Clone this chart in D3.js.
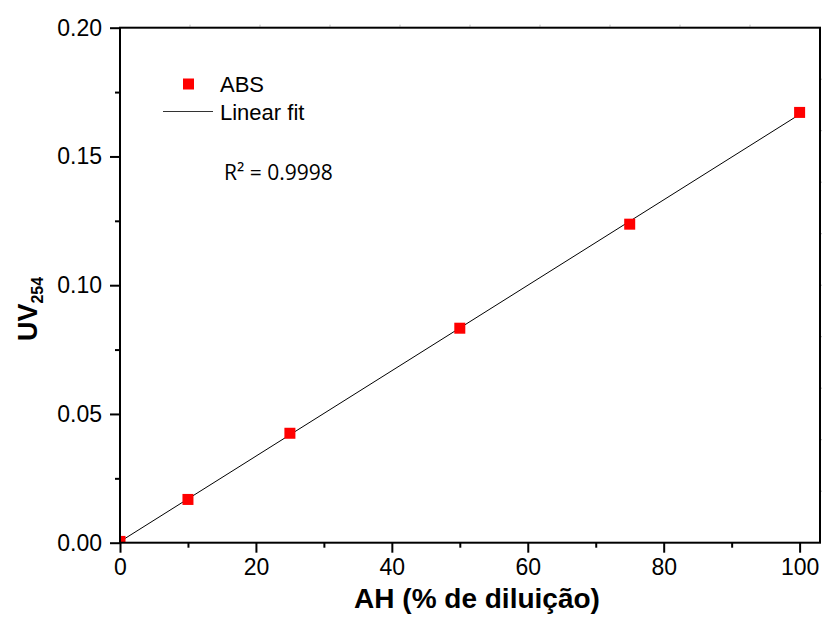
<!DOCTYPE html>
<html>
<head>
<meta charset="utf-8">
<script src="https://cdn.jsdelivr.net/npm/d3@7"></script>
<style>
  html, body { margin: 0; padding: 0; background: #fff; }
  svg { display: block; }
  text { font-family: "Liberation Sans", Arial, sans-serif; fill: #000; }
</style>
</head>
<body>
<svg id="chart" width="822" height="630"></svg>
<script>
// Dilution (%) of humic acid and measured UV absorbance at 254 nm
const dilution = [0, 10, 25, 50, 75, 100];
const absorbance = [0.0005, 0.0168, 0.0425, 0.0833, 0.1237, 0.1671];
const xTicks = [0, 20, 40, 60, 80, 100];
const yTicks = [0.00, 0.05, 0.10, 0.15, 0.20];
const rSquaredLabel = "R² = 0.9998";

const W = 822, H = 630;
const margin = { left: 120, top: 27.7, right: 2, bottom: 87.3 };
const pw = W - margin.left - margin.right;   // 700
const ph = H - margin.top - margin.bottom;   // 515

const svg = d3.select("#chart");
const g = svg.append("g").attr("transform", `translate(${margin.left},${margin.top})`);

const x = d3.scaleLinear().domain([0, 103]).range([0, pw]);
const y = d3.scaleLinear().domain([0, 0.2]).range([ph, 0]);

// Least-squares line through the measurements
const n = dilution.length;
const mx = d3.mean(dilution), my = d3.mean(absorbance);
let sxy = 0, sxx = 0;
for (let i = 0; i < n; i++) {
  sxy += (dilution[i] - mx) * (absorbance[i] - my);
  sxx += (dilution[i] - mx) ** 2;
}
const slope = sxy / sxx, intercept = my - slope * mx;
const fitX = [d3.min(dilution), d3.max(dilution)];

g.append("clipPath").attr("id", "plot-clip")
  .append("rect").attr("width", pw).attr("height", ph);

const plot = g.append("g").attr("clip-path", "url(#plot-clip)");

plot.append("path")
  .datum(fitX)
  .attr("fill", "none")
  .attr("stroke", "#000")
  .attr("stroke-width", 1)
  .attr("d", d3.line().x(d => x(d)).y(d => y(intercept + slope * d)));

const sq = 11;
plot.selectAll("rect.pt")
  .data(dilution.map((d, i) => [d, absorbance[i]]))
  .join("rect")
  .attr("class", "pt")
  .attr("x", d => x(d[0]) - sq / 2)
  .attr("y", d => y(d[1]) - sq / 2)
  .attr("width", sq).attr("height", sq)
  .attr("fill", "#ff0000");

// Faint frame ticks on the top and right edges
const frameX = d3.scaleLinear().domain([0, 10]).range([0, pw]);
const frameY = d3.scaleLinear().domain([0, 10]).range([0, ph]);
g.append("g").selectAll("line")
  .data(d3.range(1, 10))
  .join("line")
  .attr("x1", d => frameX(d)).attr("x2", d => frameX(d))
  .attr("y1", -1).attr("y2", -3)
  .attr("stroke", "#bbb").attr("stroke-width", 1);
g.append("g").selectAll("line")
  .data(d3.range(1, 10))
  .join("line")
  .attr("y1", d => frameY(d)).attr("y2", d => frameY(d))
  .attr("x1", pw + 1).attr("x2", pw + 3)
  .attr("stroke", "#bbb").attr("stroke-width", 1);

// Bottom axis
const xAxis = g.append("g").attr("transform", `translate(0,${ph})`);
xAxis.call(d3.axisBottom(x).tickValues(d3.range(10, 101, 20)).tickSize(5).tickFormat(""))
  .call(s => s.select(".domain").remove());
xAxis.append("g").call(d3.axisBottom(x).tickValues(xTicks).tickSize(10).tickPadding(6).tickFormat(d3.format("d")))
  .call(s => s.select(".domain").remove());
xAxis.selectAll("line").attr("stroke", "#000").attr("stroke-width", 2);
xAxis.selectAll("text").attr("font-size", 23).style("font-family", "Liberation Sans, Arial, sans-serif").attr("fill", "#000");

// Left axis
const yAxis = g.append("g");
yAxis.call(d3.axisLeft(y).tickValues(d3.range(0.025, 0.2, 0.05)).tickSize(5).tickFormat(""))
  .call(s => s.select(".domain").remove());
yAxis.append("g").call(d3.axisLeft(y).tickValues(yTicks).tickSize(10).tickPadding(8).tickFormat(d3.format(".2f")))
  .call(s => s.select(".domain").remove());
yAxis.selectAll("line").attr("stroke", "#000").attr("stroke-width", 2);
yAxis.selectAll("text").attr("font-size", 23).style("font-family", "Liberation Sans, Arial, sans-serif").attr("fill", "#000");

// Frame
g.append("rect")
  .attr("width", pw).attr("height", ph)
  .attr("fill", "none").attr("stroke", "#000").attr("stroke-width", 2);

// Legend
const leg = g.append("g");
leg.append("rect")
  .attr("x", 188.5 - margin.left - sq / 2).attr("y", 84 - margin.top - sq / 2)
  .attr("width", sq).attr("height", sq).attr("fill", "#ff0000");
leg.append("text").attr("x", 220 - margin.left).attr("y", 92 - margin.top)
  .attr("font-size", 22).text("ABS");
leg.append("line")
  .attr("x1", 163 - margin.left).attr("x2", 213 - margin.left)
  .attr("y1", 111.5 - margin.top).attr("y2", 111.5 - margin.top)
  .attr("stroke", "#333").attr("stroke-width", 1);
leg.append("text").attr("x", 220 - margin.left).attr("y", 120 - margin.top)
  .attr("font-size", 22).text("Linear fit");

g.append("text")
  .attr("x", 224 - margin.left).attr("y", 180 - margin.top)
  .style("font-family", "'Open Sans', sans-serif")
  .attr("font-size", 21)
  .text(rSquaredLabel);

// Axis titles
svg.append("text")
  .attr("x", 477).attr("y", 608)
  .attr("text-anchor", "middle")
  .attr("font-size", 28).attr("font-weight", "bold")
  .text("AH (% de diluição)");

const yt = svg.append("text")
  .attr("transform", "translate(37,309) rotate(-90)")
  .attr("text-anchor", "middle")
  .attr("font-weight", "bold");
yt.append("tspan").attr("font-size", 27).text("UV");
yt.append("tspan").attr("font-size", 16).attr("dy", 6).text("254");
</script>
</body>
</html>
